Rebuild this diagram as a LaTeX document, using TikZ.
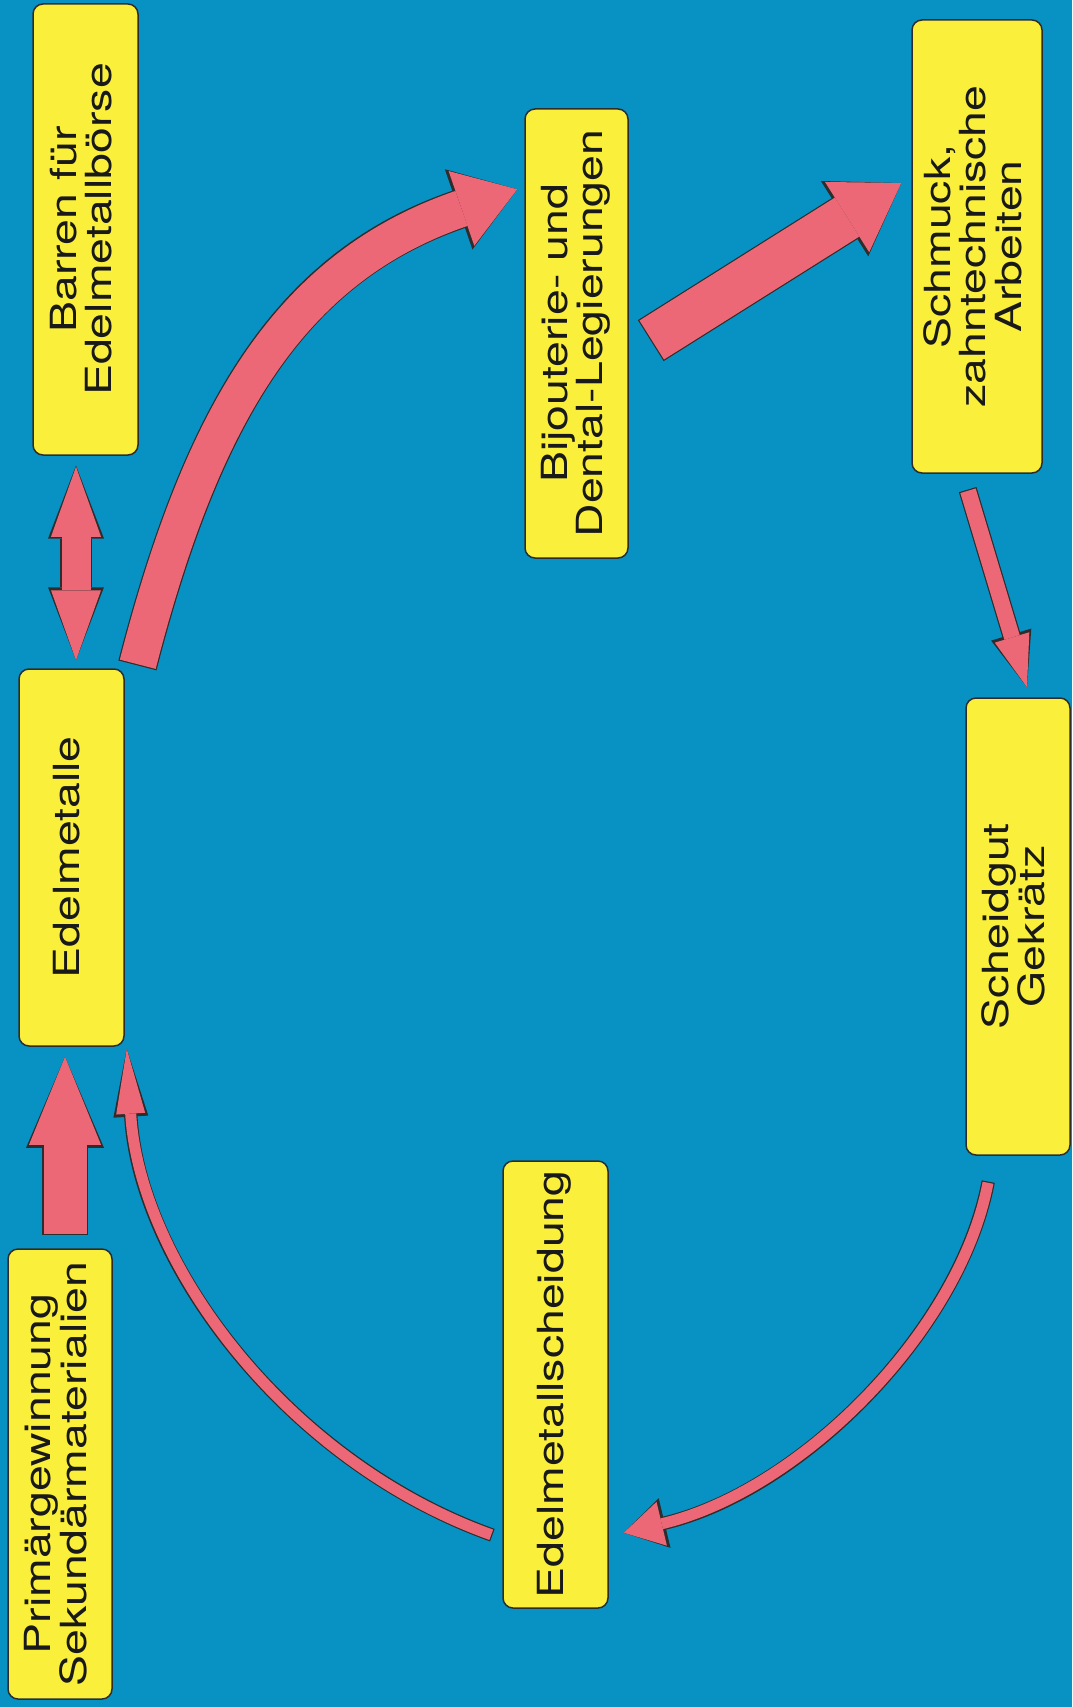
\documentclass[tikz,border=0pt]{standalone}
\usepackage{fontspec}
\setmainfont[FakeStretch=1.29]{TeX Gyre Heros}
\usepackage{graphicx}
\usepackage{xcolor}
\definecolor{kreisbg}{RGB}{8,146,196}
\definecolor{kreisgelb}{RGB}{250,240,60}
\definecolor{kreisrot}{RGB}{236,104,118}
\definecolor{kreisrand}{RGB}{45,45,45}
\usetikzlibrary{arrows.meta,calc}
\newcommand{\hochtext}[1]{\rotatebox{90}{\begin{tabular}{@{}c@{}}#1\end{tabular}}}

\begin{document}
\begin{tikzpicture}[
  x=0.5pt, y=-0.5pt,
  station/.style={rectangle, rounded corners=5pt, draw=kreisrand, fill=kreisgelb,
                  line width=0.75pt, inner sep=0pt, text=black!90,
                  font=\fontsize{18pt}{15.5pt}\selectfont},
  rand/.style={draw=kreisrand, shorten <=-0.6pt},
  strom/.style={draw=kreisrot},
  pfeil/.style n args={3}{line width=#1, -{Triangle[length=#2, width=#3, line width=0pt]}},
  doppelpfeil/.style n args={3}{line width=#1,
    {Triangle[length=#2, width=#3, line width=0pt]}-{Triangle[length=#2, width=#3, line width=0pt]}},
]
\useasboundingbox (0,0) rectangle (1072,1707);
\fill[kreisbg] (0,0) rectangle (1072,1707);

% ---- the seven stations of the cycle
\node[station, minimum width=52.5pt, minimum height=225.5pt] (barren) at (85.5,229.5)
  {\hochtext{Barren für\\Edelmetallbörse}};
\node[station, minimum width=52.5pt, minimum height=188.5pt] (edel) at (71.5,857.5)
  {\hochtext{Edelmetalle}};
\node[station, minimum width=52pt, minimum height=225pt] (prim) at (60,1474)
  {\hochtext{Primärgewinnung\\Sekundärmaterialien}};
\node[station, minimum width=51.5pt, minimum height=224.5pt] (bijou) at (576.5,333.5)
  {\hochtext{Bijouterie- und\\Dental-Legierungen}};
\node[station, minimum width=65pt, minimum height=226.5pt] (schmuck) at (977,246.5)
  {\hochtext{Schmuck,\\zahntechnische\\Arbeiten}};
\node[station, minimum width=52pt, minimum height=228.5pt] (scheid) at (1018,926.5)
  {\hochtext{Scheidgut\\Gekrätz}};
\node[station, minimum width=52.5pt, minimum height=223.5pt] (scheidung) at (555.5,1384.5)
  {\hochtext{Edelmetallscheidung}};

% ---- ends of the arrows, next to the stations
\coordinate (b1) at ([shift={(-9.5,11)}]barren.south);
\coordinate (e1) at ([shift={(4.5,-8)}]edel.north);
\coordinate (p1) at ([shift={(5,-14)}]prim.north);
\coordinate (e2) at ([shift={(-6.5,10)}]edel.south);
\coordinate (e3) at ([shift={(13,-4)}]edel.north east);
\coordinate (j1) at ([shift={(-7,81)}]bijou.north west);
\coordinate (j2) at ([shift={(23,6.5)}]bijou.east);
\coordinate (s1) at ([shift={(-10,-63.5)}]schmuck.west);
\coordinate (s2) at ([shift={(-9,17)}]schmuck.south);
\coordinate (g1) at ([shift={(9,-10)}]scheid.north);
\coordinate (g2) at ([shift={(-30,27)}]scheid.south);
\coordinate (h1) at ([shift={(15,-76)}]scheidung.south east);
\coordinate (h2) at ([shift={(-11,-74)}]scheidung.south west);
\coordinate (e4) at ([shift={(2,2)}]edel.south east);

% ---- arrows: dark rim first, then the red body on top
\draw[rand, doppelpfeil={15.7pt}{36.5pt}{28pt}] (b1) -- (e1);
\draw[strom, doppelpfeil={14.5pt}{35pt}{25pt}] (b1) -- (e1);

\draw[rand, pfeil={22.7pt}{45.5pt}{39pt}] (p1) -- (e2);
\draw[strom, pfeil={21.5pt}{44pt}{36pt}] (p1) -- (e2);

\draw[rand, pfeil={19.7pt}{31pt}{42.5pt}] (e3) .. controls +(65,-252) and +(-227,78) .. (j1);
\draw[strom, pfeil={18.5pt}{29.5pt}{39.5pt}] (e3) .. controls +(65,-252) and +(-227,78) .. (j1);

\draw[rand, pfeil={24.2pt}{33.5pt}{44.5pt}] (j2) -- (s1);
\draw[strom, pfeil={23pt}{32pt}{41.5pt}] (j2) -- (s1);

\draw[rand, pfeil={9.2pt}{27.5pt}{21pt}] (s2) -- (g1);
\draw[strom, pfeil={8pt}{26pt}{18pt}] (s2) -- (g1);

\draw[rand, pfeil={6.7pt}{21pt}{25.5pt}] (g2) .. controls +(-28,148) and +(177,-42) .. (h1);
\draw[strom, pfeil={5.5pt}{19.5pt}{22.5pt}] (g2) .. controls +(-28,148) and +(177,-42) .. (h1);

\draw[rand, pfeil={6.7pt}{34pt}{17.5pt}] (h2) .. controls +(-204,-73) and +(13,215) .. (e4);
\draw[strom, pfeil={5.5pt}{32.5pt}{14.5pt}] (h2) .. controls +(-204,-73) and +(13,215) .. (e4);
\end{tikzpicture}
\end{document}
